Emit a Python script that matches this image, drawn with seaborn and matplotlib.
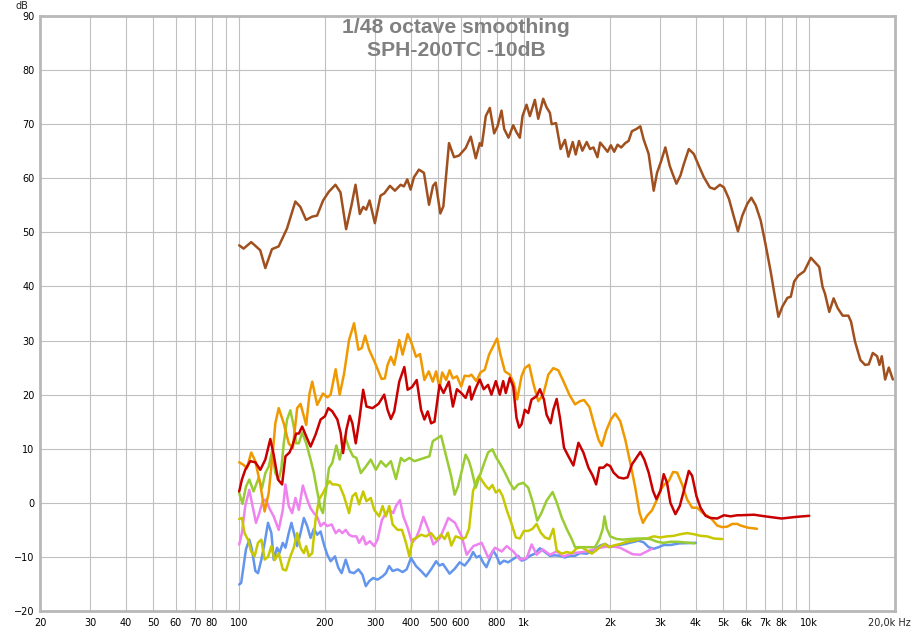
import numpy as np
import pandas as pd
import matplotlib
matplotlib.use("Agg")
import matplotlib.pyplot as plt
import seaborn as sns

sns.set_style("white")
plt.rcParams["font.family"] = ["DejaVu Sans"]

# (frequency in Hz, level in dB), one list per curve
brown = [
    (100, 47.6), (103.6, 47.0), (110.2, 48.2), (118.5, 46.7), (123.5, 43.4), (130.3, 46.9),
    (137.5, 47.4), (147.1, 50.7), (157.4, 55.7), (163.9, 54.7), (171.6, 52.3), (180.1, 52.9),
    (187.6, 53.1), (197, 55.9), (206.2, 57.5), (217.6, 58.8), (226.6, 57.4), (237.2, 50.6),
    (247.7, 55.0), (255.9, 58.8), (265, 53.4), (272.3, 54.7), (279, 54.2), (286.7, 55.9),
    (299.2, 51.7), (313.3, 56.8), (322.8, 57.2), (337.9, 58.6), (351.9, 57.7), (368.4, 58.8),
    (378.4, 58.5), (388.8, 59.8), (399.4, 57.9), (410.4, 60.2), (427.3, 61.6), (444.9, 61.0),
    (463.5, 55.1), (478.6, 58.6), (489, 59.2), (507.8, 53.5), (520.3, 54.8), (544.7, 66.5),
    (567.3, 63.9), (590.8, 64.2), (623.5, 65.6), (649.3, 67.7), (676.1, 63.7), (698.4, 66.5),
    (709.8, 66.0), (733.2, 71.5), (757.4, 73.0), (784.4, 68.3), (805.9, 69.6), (832.5, 72.5),
    (850.7, 69.1), (880.9, 67.5), (914.8, 69.8), (939.8, 68.5), (965.6, 67.5), (986.5, 71.5),
    (1019, 73.6), (1047, 71.5), (1090, 74.5), (1120, 71.0), (1166, 74.7), (1198, 73.1),
    (1231, 72.1), (1248, 70.0), (1293, 70.2), (1342, 65.4), (1390, 67.1), (1429, 64.0),
    (1480, 66.7), (1516, 64.4), (1557, 66.9), (1600, 65.1), (1657, 66.7), (1702, 65.4),
    (1750, 65.7), (1807, 63.9), (1847, 66.6), (1908, 65.7), (1961, 64.9), (2014, 66.1),
    (2069, 64.9), (2126, 66.2), (2190, 65.7), (2262, 66.5), (2324, 66.9), (2387, 68.7),
    (2473, 69.1), (2555, 69.6), (2624, 67.2), (2733, 64.5), (2847, 57.7), (2924, 61.0),
    (3020, 63.1), (3128, 65.7), (3240, 62.3), (3302, 61.1), (3420, 59.0), (3533, 60.5),
    (3630, 62.6), (3780, 65.4), (3936, 64.5), (4100, 62.3), (4269, 60.2), (4482, 58.3),
    (4655, 58.0), (4861, 58.8), (5021, 58.3), (5228, 56.2), (5445, 52.8), (5623, 50.2),
    (5825, 53.1), (6066, 55.3), (6265, 56.4), (6490, 55.0), (6757, 52.2), (7038, 47.6),
    (7328, 42.7), (7530, 39.0), (7799, 34.4), (8055, 36.3), (8388, 37.9), (8617, 38.1),
    (8854, 40.9), (9148, 42.0), (9603, 42.8), (10137, 45.3), (10470, 44.5), (10845, 43.6),
    (11140, 39.9), (11355, 38.7), (11759, 35.3), (12180, 37.8), (12583, 36.0), (13104, 34.6),
    (13720, 34.6), (14020, 33.5), (14482, 29.8), (15120, 26.4), (15703, 25.5), (16180, 25.6),
    (16712, 27.7), (17310, 27.1), (17640, 25.5), (17976, 27.1), (18469, 22.8), (19026, 25.0),
    (19654, 22.8),
]

orange = [
    (100, 7.5), (103.6, 7.0), (106.4, 6.4), (110.2, 9.3), (113.9, 7.7), (118.6, 3.4),
    (122.8, -1.6), (126.9, 1.8), (131.1, 9.2), (133.9, 14.7), (137.6, 17.5), (143.3, 14.7),
    (149.2, 11.0), (154.2, 10.1), (159.7, 17.5), (164.1, 18.3), (171.8, 14.4), (176.6, 20.3),
    (180.4, 22.4), (187.8, 18.1), (196.7, 20.2), (203.7, 19.5), (209.3, 20.0), (218, 24.7),
    (225.2, 20.0), (233.2, 23.8), (242.9, 30.1), (252.9, 33.2), (262, 28.3), (269.2, 28.6),
    (276.6, 30.9), (285.7, 28.3), (300, 25.8), (315.8, 22.9), (324.4, 23.0), (331.5, 25.5),
    (340.6, 27.0), (349.9, 25.5), (364.4, 30.1), (374.4, 27.4), (390, 31.2), (400.7, 29.8),
    (417.3, 27.0), (431, 27.5), (446.5, 22.7), (462.5, 24.3), (477.8, 22.4), (490.9, 24.3),
    (504.4, 21.2), (515.4, 24.1), (532.4, 22.7), (547, 24.5), (562, 23.0), (580.5, 23.4),
    (601.3, 21.5), (617.8, 23.5), (640, 23.4), (652.6, 23.7), (679.6, 22.5), (702.1, 24.1),
    (727.1, 24.6), (752.8, 27.4), (777.8, 28.9), (803.3, 30.4), (825.4, 27.4), (855.5, 24.3),
    (890.1, 23.7), (919.7, 22.1), (945, 19.1), (978.6, 23.4), (1005, 24.9), (1041, 25.5),
    (1076, 22.1), (1120, 18.8), (1166, 20.0), (1215, 23.7), (1265, 24.9), (1317, 24.5),
    (1372, 22.5), (1440, 20.0), (1508, 18.2), (1570, 18.8), (1622, 19.0), (1694, 17.7),
    (1759, 14.5), (1822, 11.7), (1872, 10.5), (1939, 13.3), (2014, 15.4), (2086, 16.5),
    (2172, 15.1), (2262, 11.7), (2356, 7.4), (2453, 2.8), (2541, -1.9), (2610, -3.7),
    (2697, -2.4), (2807, -1.4), (2924, 0.6), (3020, 2.5), (3102, 3.4), (3214, 4.0),
    (3329, 5.7), (3439, 5.6), (3581, 3.4), (3729, 0.6), (3884, -0.9), (4045, -0.9),
    (4212, -1.8), (4385, -2.4), (4530, -2.9), (4756, -4.2), (4953, -4.5), (5159, -4.4),
    (5371, -3.9), (5593, -3.9), (5745, -4.2), (6100, -4.6), (6560, -4.8),
]

red = [
    (100, 2.1), (102.2, 4.3), (105, 6.1), (109.3, 7.7), (113.9, 7.5), (118.6, 6.1),
    (123.5, 8.0), (128.6, 11.8), (132.1, 8.9), (136.8, 4.3), (141.4, 3.4), (145.3, 8.6),
    (150.1, 9.3), (153.4, 10.4), (158.4, 12.8), (161.9, 12.8), (166.3, 14.1), (171.8, 12.3),
    (178, 10.4), (185.3, 12.6), (193, 15.4), (199.9, 16.0), (205.4, 17.5), (212.2, 16.9),
    (221, 15.4), (227, 12.9), (231.4, 9.2), (237.7, 13.5), (244.2, 16.1), (249.5, 14.7),
    (256.4, 11.0), (263.4, 15.0), (272.2, 20.9), (279.6, 17.8), (293.6, 17.5), (308.3, 18.3),
    (322.7, 20.0), (331.5, 17.2), (340.6, 15.5), (349.9, 16.9), (364.4, 22.4), (379.6, 25.1),
    (390, 20.9), (404, 21.4), (419.6, 22.7), (434.6, 17.2), (446.5, 15.4), (458.7, 16.9),
    (471.3, 14.7), (484.3, 15.0), (504.4, 21.8), (521.1, 20.3), (544, 22.4), (562, 17.8),
    (580.5, 21.0), (601.3, 20.3), (623, 19.4), (643.5, 21.5), (652.6, 19.1), (675.9, 21.2),
    (698.4, 22.8), (721.1, 21.0), (746.8, 21.8), (767.3, 20.0), (795.1, 22.5), (821.3, 20.0),
    (843.7, 22.5), (861.9, 20.3), (890.1, 23.1), (915, 21.5), (939.7, 15.7), (960.3, 13.9),
    (978.6, 14.5), (1005, 17.2), (1033, 16.6), (1061, 19.1), (1105, 19.7), (1135, 21.0),
    (1173, 19.1), (1198, 16.3), (1238, 14.7), (1265, 17.2), (1300, 19.2), (1335, 15.7),
    (1379, 10.2), (1429, 8.6), (1488, 6.9), (1550, 11.1), (1613, 9.3), (1680, 6.5),
    (1740, 5.0), (1788, 3.4), (1836, 6.5), (1897, 6.5), (1950, 7.1), (2003, 6.8),
    (2058, 5.6), (2143, 4.7), (2231, 4.5), (2305, 4.7), (2387, 7.1), (2453, 8.0),
    (2555, 9.4), (2639, 8.0), (2733, 5.6), (2831, 2.2), (2909, 0.7), (3004, 2.2),
    (3087, 5.3), (3171, 3.7), (3258, 0.0), (3393, -2.1), (3514, -0.6), (3630, 2.2),
    (3780, 5.9), (3884, 5.0), (4023, 1.2), (4155, -0.9), (4327, -2.4), (4506, -2.8),
    (4756, -2.9), (5021, -2.3), (5301, -2.5), (5593, -2.3), (5745, -2.3), (6400, -2.2),
    (7000, -2.5), (8000, -2.9), (9000, -2.6), (10000, -2.4),
]

green = [
    (100, 1.8), (102.7, -0.2), (105.6, 3.0), (108.5, 4.3), (112.3, 2.1), (117, 4.6),
    (120.2, 2.7), (123.5, 5.5), (126.9, 6.7), (130.3, 9.5), (133.9, 5.5), (137.6, 4.3),
    (140.6, 6.4), (143.3, 11.0), (147.2, 15.4), (151.2, 17.1), (155.4, 14.1), (158.4, 11.0),
    (161.9, 11.0), (166.3, 13.0), (171.8, 11.0), (178, 8.0), (182.8, 5.5), (187.8, 2.1),
    (193, -1.0), (196.7, -1.9), (201, 1.8), (206.5, 6.4), (212.2, 7.4), (219.2, 10.6),
    (225.2, 8.0), (235.1, 12.3), (242.9, 10.1), (250.8, 8.6), (257.8, 8.3), (267.1, 5.5),
    (278.1, 6.7), (289.5, 8.0), (301.6, 6.1), (314.1, 7.7), (327.1, 6.7), (340.6, 7.7),
    (354.8, 4.4), (369.5, 8.3), (379.6, 7.7), (395.4, 8.3), (411.8, 7.7), (428.7, 8.0),
    (446.5, 8.3), (465, 8.6), (477.8, 11.4), (497.5, 12.0), (511.1, 12.4), (532.4, 8.6),
    (554.4, 4.9), (570, 1.5), (585.3, 3.0), (601.3, 5.5), (623, 8.9), (640, 7.7),
    (652.6, 6.2), (675.9, 2.8), (698.4, 5.0), (721.1, 7.1), (746.8, 9.3), (773, 9.9),
    (799, 8.3), (825.4, 7.1), (855.5, 5.6), (890.1, 3.7), (919.7, 2.5), (952.5, 3.4),
    (992, 3.7), (1033, 2.8), (1076, -0.2), (1111, -3.3), (1151, -1.8), (1198, 0.4),
    (1258, 2.0), (1300, 0.1), (1354, -2.7), (1409, -4.8), (1468, -6.7), (1508, -8.2),
    (1570, -8.2), (1635, -8.2), (1702, -8.2), (1773, -8.2), (1836, -6.7), (1887, -4.8),
    (1913, -2.5), (1950, -4.8), (2003, -6.2), (2114, -6.7), (2231, -6.8), (2356, -6.7),
    (2486, -6.6), (2624, -6.6), (2770, -6.7), (2924, -7.2), (3087, -7.4), (3258, -7.2),
    (3439, -7.2), (3630, -7.3), (3832, -7.4), (3958, -7.5),
]

yellow = [
    (100, -3.0), (102.2, -2.8), (104.4, -5.6), (107.3, -6.8), (110.2, -9.0), (113.2, -9.9),
    (116.4, -7.4), (119.6, -6.8), (122.8, -10.5), (126.2, -10.0), (129.7, -8.0), (133.2, -10.6),
    (137.6, -9.3), (142.2, -12.3), (146, -12.5), (151.2, -9.9), (155.4, -8.3), (159.7, -5.6),
    (164.1, -8.3), (168.6, -9.3), (171.8, -8.0), (175.6, -9.9), (180.4, -9.3), (185.3, -3.1),
    (190.5, 0.6), (196.7, 1.8), (203.7, 3.4), (207.6, 4.0), (212.2, 3.4), (218, 3.4),
    (225.2, 3.2), (233.2, 1.2), (242.9, -1.9), (249.5, 1.2), (256.4, 1.8), (263.4, -0.3),
    (272.2, 2.1), (279.6, 0.3), (289.5, 0.9), (297.6, -1.3), (309.9, -2.5), (318.4, -0.6),
    (327.1, -2.5), (336.1, -0.6), (345.3, -4.0), (359.6, -5.0), (372.5, -5.0), (384.8, -7.4),
    (395.4, -9.9), (406.2, -6.8), (417.3, -6.5), (434.6, -5.9), (452.5, -6.2), (471.3, -5.6),
    (490.9, -6.8), (511.1, -5.9), (525.6, -6.7), (540, -5.5), (554.8, -7.9), (574.5, -6.2),
    (590.3, -6.4), (606.5, -6.7), (623.2, -6.4), (640.4, -4.8), (661.6, 2.2), (679.6, 4.0),
    (694.4, 5.0), (713.4, 4.0), (733.3, 3.1), (752.8, 2.5), (773, 3.3), (795.1, 1.9),
    (816.6, 2.4), (839.1, 1.3), (866.7, -1.2), (895.2, -3.3), (934.7, -6.4), (965.4, -6.6),
    (997.3, -5.2), (1033, -5.2), (1070, -4.8), (1105, -3.9), (1142, -5.5), (1182, -6.4),
    (1225, -6.7), (1265, -4.8), (1300, -8.8), (1354, -9.4), (1409, -9.1), (1468, -9.3),
    (1529, -8.4), (1592, -8.2), (1657, -8.8), (1726, -9.4), (1798, -8.7), (1872, -7.9),
    (1923, -7.6), (1976, -8.2), (2058, -7.9), (2172, -7.6), (2293, -7.2), (2420, -7.0),
    (2555, -6.7), (2697, -6.6), (2847, -6.2), (3004, -6.4), (3171, -6.2), (3347, -6.1),
    (3533, -5.8), (3729, -5.6), (3936, -5.8), (4155, -6.1), (4385, -6.2), (4628, -6.6),
    (4953, -6.7),
]

violet = [
    (100, -7.7), (102.2, -5.6), (105, -0.6), (108.5, 2.4), (111.4, -0.6), (114.5, -3.7),
    (117.6, -1.9), (120.9, 0.3), (124.2, 0.6), (127.6, -1.0), (132.1, -2.5), (137.6, -5.0),
    (142.2, -1.3), (145.3, 3.4), (149.2, -0.6), (153.4, -1.9), (157.5, 0.9), (161.9, -1.3),
    (167.2, 3.2), (173.2, 0.6), (178, -1.0), (182.8, -1.9), (187.8, -2.6), (193, -4.3),
    (198.3, -3.7), (203.7, -4.3), (211.1, -4.0), (218, -5.6), (224, -5.0), (230.1, -5.6),
    (236.4, -5.0), (242.9, -5.9), (249.5, -6.2), (257.8, -6.2), (263.4, -7.4), (272.2, -6.2),
    (278.1, -7.7), (287.3, -7.1), (297.6, -8.0), (305.7, -6.8), (316.7, -3.2), (327.1, -1.9),
    (336.1, -1.3), (347.2, -1.9), (354.8, -0.6), (366.4, 0.5), (376.5, -2.5), (390, -4.6),
    (404, -7.4), (417.3, -6.5), (428.7, -5.0), (442.9, -2.6), (460.9, -4.9), (480, -7.7),
    (506.5, -6.5), (541.7, -2.8), (571.8, -3.7), (603.5, -6.2), (628.4, -9.6), (663.2, -8.0),
    (709.3, -7.4), (748.6, -10.2), (790, -8.3), (833.8, -9.0), (868, -8.0), (916, -9.0),
    (966.7, -10.5), (1020, -10.2), (1062, -7.7), (1106, -9.6), (1160, -8.6), (1231, -9.6),
    (1300, -9.0), (1372, -9.9), (1487, -9.3), (1656, -9.0), (1845, -8.3), (2000, -8.0),
    (2168, -8.3), (2400, -9.5), (2555, -9.6), (2807, -8.5),
]

blue = [
    (100, -15.1), (101.6, -14.8), (103.6, -11.7), (105.6, -8.6), (108.5, -6.8), (110.8, -8.6),
    (113.9, -12.6), (116.4, -13.0), (119.6, -10.5), (122.8, -7.4), (126.2, -3.7), (129.7, -5.6),
    (132.1, -10.5), (135.8, -8.3), (138.4, -9.3), (142.2, -7.4), (145.3, -8.3), (149.2, -5.6),
    (152.5, -3.7), (156.7, -6.2), (159.7, -8.0), (164.1, -5.6), (168.6, -2.8), (173.2, -4.3),
    (178, -6.5), (182.8, -4.8), (187.8, -5.9), (193, -5.3), (198.3, -7.7), (203.7, -9.6),
    (209.3, -10.8), (216.8, -9.9), (222.7, -12.0), (228.8, -13.0), (236.4, -10.5), (244.2, -12.8),
    (252.9, -13.0), (262, -12.3), (270.7, -13.3), (278.1, -15.4), (285.7, -14.5), (295.1, -13.9),
    (305.7, -14.2), (318.4, -13.6), (327.1, -13.0), (336.1, -11.7), (345.3, -12.6), (359.6, -12.3),
    (374.5, -12.8), (386.9, -12.3), (400.7, -10.2), (417.3, -11.7), (434.6, -12.6), (452.5, -13.6),
    (471.3, -12.3), (490.9, -10.8), (504, -11.6), (518.5, -11.3), (532.7, -12.2), (547.3, -13.1),
    (570.2, -12.2), (593.5, -11.0), (618.1, -11.6), (643.9, -10.4), (661.6, -9.1), (679.6, -10.1),
    (698.4, -9.8), (717.2, -11.0), (736.9, -11.9), (757, -10.4), (777.8, -8.8), (799, -9.8),
    (821.3, -11.3), (848.2, -10.7), (878.1, -11.0), (915, -10.4), (952.5, -9.8), (978.6, -10.7),
    (1014, -10.4), (1047, -9.8), (1090, -9.4), (1135, -8.4), (1182, -9.1), (1231, -9.8),
    (1282, -9.7), (1335, -9.8), (1390, -10.1), (1448, -9.8), (1508, -9.8), (1570, -9.3),
    (1657, -9.4), (1759, -8.8), (1847, -7.9), (1923, -7.6), (2003, -8.2), (2114, -7.9),
    (2262, -7.6), (2387, -7.3), (2520, -7.0), (2624, -7.3), (2733, -8.2), (2847, -8.5),
    (2964, -8.2), (3087, -7.8), (3258, -7.8), (3500, -7.5), (4000, -7.4),
]

series = {
    "blue": blue,
    "violet": violet,
    "yellow": yellow,
    "green": green,
    "orange": orange,
    "red": red,
    "brown": brown,
}
palette = {
    "blue": "#6495ed",
    "violet": "#ee82ee",
    "yellow": "#c8c800",
    "green": "#99cc33",
    "orange": "#f09800",
    "red": "#c80000",
    "brown": "#a0501e",
}

grid_hz = [20, 30, 40, 50, 60, 70, 80, 90, 100, 200, 300, 400, 500, 600, 700, 800, 900,
           1000, 2000, 3000, 4000, 5000, 6000, 7000, 8000, 9000, 10000]
grid_labels = ["20", "30", "40", "50", "60", "70", "80", "", "100", "200", "300", "400",
               "500", "600", "", "800", "", "1k", "2k", "3k", "4k", "5k", "6k", "7k", "8k",
               "", "10k"]
db_ticks = list(range(-20, 91, 10))

rows = []
for name, pts in series.items():
    for hz, db in pts:
        rows.append({"hz": hz, "db": db, "curve": name})
df = pd.DataFrame(rows)

fig = plt.figure(figsize=(9.13, 6.32), dpi=100)
ax = fig.add_axes([40 / 913, 21 / 632, 855 / 913, 595 / 632])

sns.lineplot(
    data=df,
    x="hz",
    y="db",
    hue="curve",
    hue_order=list(series.keys()),
    palette=palette,
    estimator=None,
    sort=False,
    legend=False,
    linewidth=1.8,
    ax=ax,
)

ax.set_xscale("log")
ax.set_xlim(20, 20000)
ax.set_ylim(-20, 90)
ax.set_xticks(grid_hz)
ax.set_xticklabels(grid_labels)
ax.xaxis.set_minor_locator(matplotlib.ticker.NullLocator())
ax.set_yticks(db_ticks)
ax.grid(True, color="#c0c0c0", linewidth=0.8)
ax.set_axisbelow(True)
ax.tick_params(length=0, labelsize=7, colors="black", pad=4)
ax.tick_params(axis="x", pad=5)
ax.set_xlabel("")
ax.set_ylabel("")
for side in ["left", "bottom", "top", "right"]:
    ax.spines[side].set_color("#b8b8b8")
    ax.spines[side].set_linewidth(2)

ax.annotate("20,0k Hz", xy=(20000, 0), xycoords=("data", "axes fraction"),
            xytext=(-4, -5), textcoords="offset points", ha="center", va="top",
            fontsize=7)
fig.text(22 / 913, 1 - 9 / 632, "dB", ha="center", va="baseline", fontsize=7)

fig.text(456 / 913, 1 - 33 / 632, "1/48 octave smoothing", ha="center", va="baseline",
         fontsize=15.2, fontweight="bold", color="#808080", family=["Liberation Sans"])
fig.text(456 / 913, 1 - 55.5 / 632, "SPH-200TC -10dB", ha="center", va="baseline",
         fontsize=15.2, fontweight="bold", color="#808080", family=["Liberation Sans"])

fig.savefig("out.png", dpi=100)
